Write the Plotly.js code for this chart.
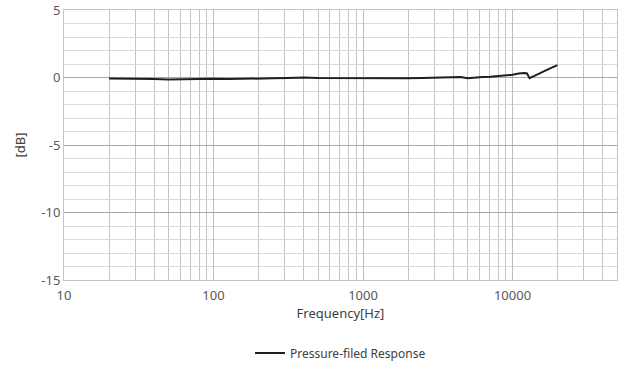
<!DOCTYPE html>
<html>
<head>
<meta charset="utf-8">
<script src="https://cdn.plot.ly/plotly-3.0.1.min.js"></script>
<style>html,body{margin:0;padding:0;background:#fff;}#chart{width:640px;height:370px;}</style>
</head>
<body>
<div id="chart"></div>
<script>
const seriesName = "Pressure-filed Response";
const freqHz = [20,25,30,40,50,60,80,100,125,160,200,250,315,400,500,630,800,1000,1250,1600,2000,2500,3150,4000,4500,5000,5600,6300,7100,8000,9000,10000,11000,12000,12500,13000,14000,16000,18000,20000];
const levelDb = [-0.08,-0.08,-0.09,-0.12,-0.14,-0.12,-0.09,-0.1,-0.12,-0.08,-0.06,-0.06,-0.03,0.0,-0.04,-0.05,-0.04,-0.03,-0.06,-0.1,-0.06,-0.03,-0.01,0.02,0.04,-0.06,0.0,0.03,0.06,0.1,0.13,0.2,0.3,0.34,0.3,-0.05,0.12,0.45,0.7,0.92];
const xTickVals = [10,100,1000,10000];
const xTickText = ["10","100","1000","10000"];
const yTickVals = [-15,-10,-5,0,5];
const yTickText = ["-15","-10","-5","0","5"];

const font = {family: "Noto Sans, DejaVu Sans, sans-serif", color: "#595959", size: 12};

Plotly.newPlot("chart", [{
  x: freqHz, y: levelDb, type: "scatter", mode: "lines", name: seriesName,
  line: {color: "#1f1f1f", width: 2}
}], {
  width: 640, height: 370,
  margin: {l: 64, r: 23, t: 10, b: 90, autoexpand: false},
  paper_bgcolor: "#fff", plot_bgcolor: "#fff",
  font: font,
  showlegend: true,
  legend: {orientation: "h", x: 0.5, xanchor: "center", y: -0.27, yanchor: "middle", font: {size: 12, color: "#404040"}},
  xaxis: {
    type: "log", range: [1, Math.log10(50000)], automargin: false,
    tickvals: xTickVals, ticktext: xTickText, ticks: "", ticklabelstandoff: 3,
    showgrid: true, gridcolor: "#bdbdbd", gridwidth: 1,
    minor: {tickvals: [20,30,40,50,60,70,80,90,200,300,400,500,600,700,800,900,2000,3000,4000,5000,6000,7000,8000,9000,20000,30000,40000], showgrid: true, gridcolor: "#c4c4c4", gridwidth: 1, ticks: ""},
    showline: true, mirror: true, linecolor: "#c4c4c4", linewidth: 1,
    zeroline: false,
    tickfont: {size: 13, color: "#595959"},
    title: {text: "Frequency[Hz]", font: {size: 13, color: "#404040"}, standoff: 6}
  },
  yaxis: {
    range: [-15, 5], tickvals: yTickVals, ticktext: yTickText, ticks: "", automargin: false,
    showgrid: true, gridcolor: "#a8a8a8", gridwidth: 1,
    minor: {dtick: 1, showgrid: true, gridcolor: "#d9d9d9", gridwidth: 1, ticks: ""},
    showline: true, mirror: true, linecolor: "#c4c4c4", linewidth: 1,
    zeroline: false,
    tickfont: {size: 13, color: "#595959"},
    title: {text: "[dB]", font: {size: 13, color: "#404040"}, standoff: 12}
  }
}, {displayModeBar: false, staticPlot: true});
</script>
</body>
</html>
